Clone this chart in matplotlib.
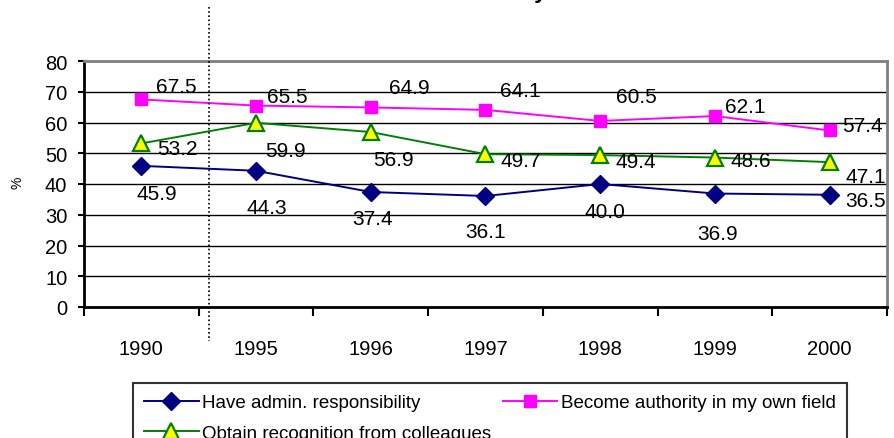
import matplotlib
matplotlib.use("Agg")
import matplotlib.pyplot as plt
from matplotlib.lines import Line2D
import numpy as np

plt.rcParams['font.family'] = ['Liberation Sans', 'DejaVu Sans']

years = ["1990", "1995", "1996", "1997", "1998", "1999", "2000"]
admin = [45.9, 44.3, 37.4, 36.1, 40.0, 36.9, 36.5]
authority = [67.5, 65.5, 64.9, 64.1, 60.5, 62.1, 57.4]
recognition = [53.2, 59.9, 56.9, 49.7, 49.4, 48.6, 47.1]
series_names = ["Have admin. responsibility", "Become authority in my own field",
                "Obtain recognition from colleagues"]
y_ticks = [0, 10, 20, 30, 40, 50, 60, 70, 80]

# label offsets in pixels (dx, dy with y downward), layout only
off_admin = [(15, 28), (11, 37), (2, 27), (0, 36), (5, 28), (3, 40), (36, 6)]
off_auth = [(35, -13), (31, -9), (39, -20), (35, -19), (36, -24), (30, -10), (33, -5)]
off_rec = [(36, 5), (29, 28), (23, 27), (35, 6), (36, 6), (36, 3), (36, 14)]

W, H = 895, 439
fig = plt.figure(figsize=(W / 100, H / 100), dpi=100)
ax = fig.add_axes([84 / W, 1 - 308 / H, 803 / W, 246 / H])

x = np.arange(len(years))
l1, = ax.plot(x, admin, color='#000080', lw=1.4, marker='D', ms=9,
              mfc='#000080', mec='#000080', clip_on=False, zorder=5)
l2, = ax.plot(x, authority, color='#FF00FF', lw=1.4, marker='s', ms=9,
              mfc='#FF00FF', mec='#FF00FF', clip_on=False, zorder=5)
l3, = ax.plot(x, recognition, color='#008000', lw=1.4, marker='^', ms=11,
              mfc='#FFFF00', mec='#008000', mew=1.6, clip_on=False, zorder=5)

for vals, offs in ((admin, off_admin), (authority, off_auth), (recognition, off_rec)):
    for xi, v, (dx, dy) in zip(x, vals, offs):
        ax.annotate(f"{v:.1f}", (xi, v), xytext=(dx, -dy), textcoords='offset pixels',
                    ha='center', va='center', fontsize=15, color='black', zorder=6)

ax.set_xlim(-0.5, len(years) - 0.5)
ax.set_ylim(0, 80)
ax.set_yticks(y_ticks)
ax.set_yticklabels([str(t) for t in y_ticks])
ax.yaxis.grid(True, color='black', lw=1)
ax.set_axisbelow(True)

ax.set_xticks(x)
ax.set_xticklabels(years)
ax.set_xticks(np.arange(len(years) + 1) - 0.5, minor=True)
ax.tick_params(axis='x', which='major', length=0, pad=23, labelsize=14.5)
ax.tick_params(axis='x', which='minor', length=6.5, width=1.5, direction='out')
ax.tick_params(axis='y', length=4, width=1.5, direction='out', pad=8, labelsize=14.5)

ax.spines['left'].set_linewidth(2)
ax.spines['bottom'].set_linewidth(2)
ax.spines['top'].set_color('#808080')
ax.spines['right'].set_color('#808080')
ax.spines['top'].set_linewidth(2)
ax.spines['right'].set_linewidth(2)

# dotted separator line
fig.add_artist(Line2D([209 / W, 209 / W], [1 - 8 / H, 1 - 342 / H],
                      transform=fig.transFigure, color='black', lw=1.2,
                      linestyle=(0, (1, 1.5))))

# y label
fig.text(17 / W, 1 - 183 / H, "%", rotation=90, fontsize=10, ha='center', va='center')

# title (cut off at top, as in the source)
fig.text(450 / W, 1 + 2 / H, "Canada University", fontsize=16, fontweight='bold',
         ha='center', va='baseline')

leg = fig.legend([l1, l3, l2], [series_names[0], series_names[2], series_names[1]],
                 ncol=2, loc='upper left', bbox_to_anchor=(133 / W, 1 - 384 / H),
                 borderaxespad=0, fontsize=13.5, frameon=True, fancybox=False,
                 handlelength=2.9, handletextpad=0.2, columnspacing=0.6,
                 labelspacing=0.72, borderpad=0.6)
leg.get_frame().set_edgecolor('black')
leg.get_frame().set_linewidth(1.5)

fig.savefig("out.png", dpi=100)
